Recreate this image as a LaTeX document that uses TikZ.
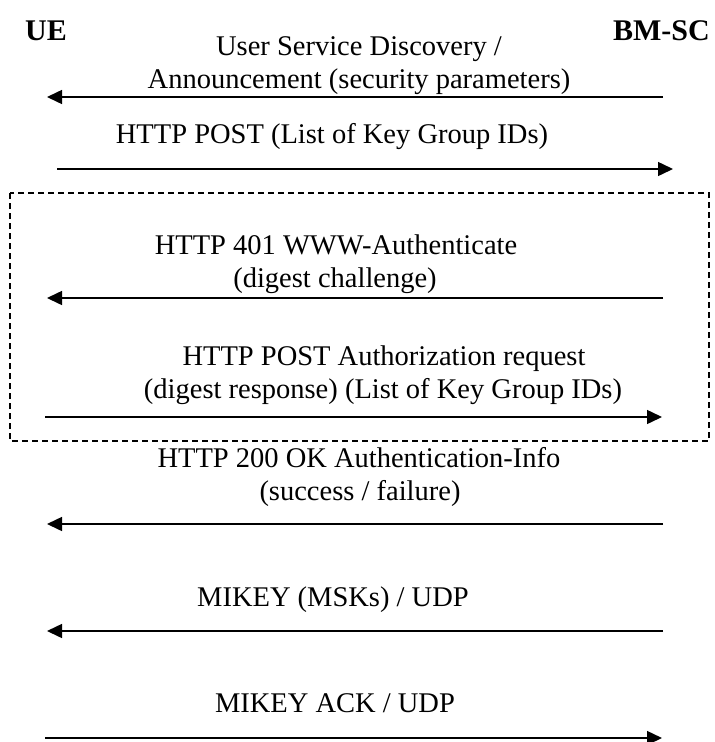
\documentclass[tikz,border=0pt]{standalone}
\usepackage{fontspec}
\setmainfont{Liberation Serif}
\usetikzlibrary{arrows.meta}

\begin{document}
\begin{tikzpicture}[x=1pt, y=-1pt,
    every node/.style={inner sep=0pt, font=\fontsize{28.5}{33}\selectfont},
    party/.style={anchor=base, font=\fontsize{30}{33}\selectfont\bfseries},
    msgtext/.style={anchor=base},
    msg/.style={line width=1.5pt, -{Triangle[length=15pt, width=14pt]}},
    groupbox/.style={line width=1.5pt, dash pattern=on 6pt off 4pt}]

\useasboundingbox (0,0) rectangle (715,742);

% Parties
\node[party, anchor=base west] (ue) at (25, 40) {UE};
\node[party, anchor=base east] (bmsc) at (710, 40) {BM-SC};

% Announcement
\node[msgtext] (m1a) at (359, 55) {User Service Discovery /};
\node[msgtext] (m1b) at (359, 88) {Announcement (security parameters)};
\coordinate (m1r) at (663, 97);
\coordinate (m1l) at (47, 97);
\draw[msg] (m1r) -- (m1l);

% Key request
\node[msgtext] (m2a) at (332, 143) {HTTP POST (List of Key Group IDs)};
\coordinate (m2l) at (57, 169);
\coordinate (m2r) at (673, 169);
\draw[msg] (m2l) -- (m2r);

% Authentication
\coordinate (boxtl) at (10, 193);
\coordinate (boxbr) at (709, 441);
\draw[groupbox] (boxtl) rectangle (boxbr);

\node[msgtext] (m3a) at (336, 254) {HTTP 401 WWW-Authenticate};
\node[msgtext] (m3b) at (335, 287) {(digest challenge)};
\coordinate (m3r) at (663, 298);
\coordinate (m3l) at (47, 298);
\draw[msg] (m3r) -- (m3l);

\node[msgtext] (m4a) at (384, 365) {HTTP POST Authorization request};
\node[msgtext] (m4b) at (383, 398) {(digest response) (List of Key Group IDs)};
\coordinate (m4l) at (45, 417);
\coordinate (m4r) at (662, 417);
\draw[msg] (m4l) -- (m4r);

% Result
\node[msgtext] (m5a) at (359, 467) {HTTP 200 OK Authentication-Info};
\node[msgtext] (m5b) at (360, 500) {(success / failure)};
\coordinate (m5r) at (663, 524);
\coordinate (m5l) at (47, 524);
\draw[msg] (m5r) -- (m5l);

% MSK delivery
\node[msgtext] (m6a) at (333, 606) {MIKEY (MSKs) / UDP};
\coordinate (m6r) at (663, 631);
\coordinate (m6l) at (47, 631);
\draw[msg] (m6r) -- (m6l);

\node[msgtext] (m7a) at (335, 712) {MIKEY ACK / UDP};
\coordinate (m7l) at (45, 738);
\coordinate (m7r) at (662, 738);
\draw[msg] (m7l) -- (m7r);

\end{tikzpicture}
\end{document}
